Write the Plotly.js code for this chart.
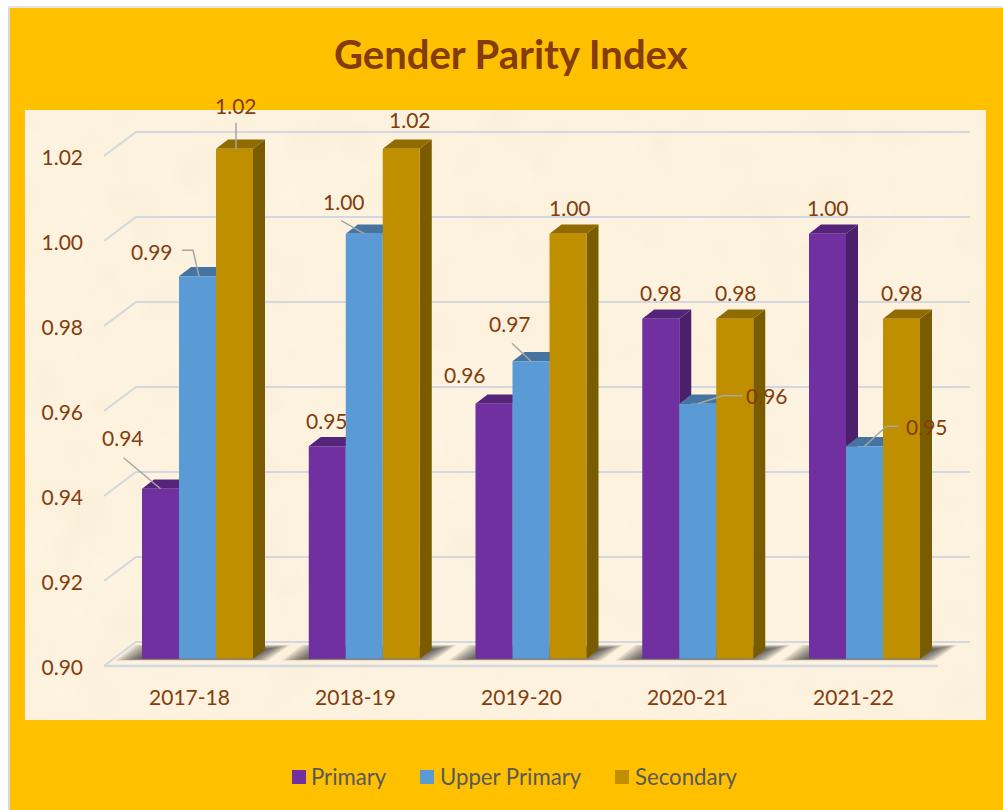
<!DOCTYPE html>
<html><head><meta charset="utf-8">
<script src="https://cdn.plot.ly/plotly-3.0.1.min.js"></script>
<style>
html,body{margin:0;padding:0;background:#fff;width:1003px;height:810px;overflow:hidden}
#edge{position:absolute;left:8px;top:6px;width:2px;height:804px;background:#d9d9d9}
#edgeTop{position:absolute;left:8px;top:6px;width:995px;height:2px;background:#e4e4e4}
#chart{position:absolute;left:10px;top:8px;width:993px;height:802px}
</style></head><body>
<div id="edge"></div><div id="edgeTop"></div><div id="chart"></div>
<script>
// ---------- data ----------
const categories = ['2017-18','2018-19','2019-20','2020-21','2021-22'];
const primary      = [0.94,0.95,0.96,0.98,1.00];
const upperPrimary = [0.99,1.00,0.97,0.96,0.95];
const secondary    = [1.02,1.02,1.00,0.98,0.98];
const yTicks = [0.90,0.92,0.94,0.96,0.98,1.00,1.02];
const seriesNames = ['Primary','Upper Primary','Secondary'];

// ---------- style / geometry constants ----------
const TXT='#843C0C', LEG='#595959', FONT='Lato, Carlito, Calibri, sans-serif';
const frontCols=['#7030A0','#5B9BD5','#BF8F00'];
const topCols=['#54247A','#44749F','#8F6B00'];
const sideCols=['#4A206B','#3E6B93','#7A5C00'];
const PX_X=166.75, PX_Y=4250, LABEL_STEP=166;  // pixels per category / per unit
const FLOOR=666;                          // page y of 0.90 on the front plane
const PLOT={l:104,r:986,t:110,b:676};     // plot rectangle on the page
const X0=189.5;                           // page x of first tick label
const GROUP_SHIFT=8, BAR_W=37, DEPTH_X=12, DEPTH_Y=9.3, PLANE_SHIFT=7.3, BACK_Y=24, TICK_SHIFT=1.5;
const pxX=p=>(p-X0)/PX_X, pxY=p=>0.90+(FLOOR-p)/PX_Y;
const xRange=[pxX(PLOT.l),pxX(PLOT.r)], yRange=[pxY(PLOT.b),pxY(PLOT.t)];
const tY=TICK_SHIFT/PX_Y;

// label offsets from the top-centre of each bar (px), by series then category
const labelOff=[
 [[-37.5,-51],[0,-26],[-29.5,-29],[0,-26],[0.5,-26]],
 [[-45.5,-25],[-20,-32],[-21.5,-38],[69,-8],[62.5,-20]],
 [[1.5,-43],[9,-29],[1.5,-26],[1,-26],[0.5,-26]]];
// leader polylines, offsets (px) from the bar top-centre; null = no leader
const leaderOff=[
 [[[0,0],[-37,-31]],null,null,null,null],
 [[[1.5,0],[-4.5,-26],[-15.5,-26]],[[0,0],[-23,-13]],[[0,0],[-19,-18]],[[0,0],[25,-8],[45,-8]],[[0,0],[22,-20],[34,-20]]],
 [[[1.5,0],[1.5,-26]],null,null,null,null]];

const series=[primary,upperPrimary,secondary];
const barCx=(k,i)=>i+(GROUP_SHIFT+(k-1)*BAR_W)/PX_X;
const traces=[];
const bare={hoverinfo:'skip',showlegend:false,mode:'lines'};

// grid lines: floor-level front line plus a return and back wall line per tick
const gridX=[pxX(104),pxX(136),pxX(970)];
yTicks.forEach(t=>{
  const yb=t+BACK_Y/PX_Y;
  traces.push(Object.assign({},bare,{x:gridX,y:[t,yb,yb],line:{color:'#D3D7DF',width:2},xaxis:'x',yaxis:'y'}));
});
traces.push(Object.assign({},bare,{x:[pxX(104),pxX(938)],y:[0.90,0.90],line:{color:'#D3D7DF',width:2.5},xaxis:'x',yaxis:'y'}));
// soft floor shadows (nested translucent polygons)
categories.forEach((c,i)=>{
  const cx=barCx(1,i);
  for(let n=0;n<9;n++){
    const fl=(-82+n*3)/PX_X, bl=(-62+n*3)/PX_X, br=(92-n*2.6)/PX_X, fr=(70-n*2.6)/PX_X;
    const yf=pxY(660.5-n*0.2), yb=pxY(645+n*0.5);
    traces.push(Object.assign({},bare,{x:[cx+fl,cx+bl,cx+br,cx+fr,cx+fl],y:[yf,yb,yb,yf,yf],fill:'toself',
      fillcolor:'rgba(45,45,45,0.13)',line:{width:0},xaxis:'x',yaxis:'y'}));
  }
});
// side and top faces of the bars, derived from the values
const dX=DEPTH_X/PX_X, dY=DEPTH_Y/PX_Y, sh=PLANE_SHIFT/PX_Y, hw=BAR_W/2/PX_X;
categories.forEach((c,i)=>{
  series.forEach((vals,k)=>{
    const v=vals[i]+sh, b=0.90+sh, l=barCx(k,i)-hw, r=barCx(k,i)+hw;
    traces.push(Object.assign({},bare,{x:[r,r+dX,r+dX,r,r],y:[v,v+dY,b+dY,b,v],fill:'toself',fillcolor:sideCols[k],line:{width:0},xaxis:'x',yaxis:'y'}));
    traces.push(Object.assign({},bare,{x:[l,l+dX,r+dX,r,l],y:[v,v+dY,v+dY,v,v],fill:'toself',fillcolor:topCols[k],line:{width:0},xaxis:'x',yaxis:'y'}));
  });
});
// bar fronts
series.forEach((vals,k)=>{
  traces.push({type:'bar',name:seriesNames[k],x:categories,y:vals.map(v=>v-0.90),base:0.90,
    customdata:vals,hovertemplate:'%{x}: %{customdata:.2f}<extra>'+seriesNames[k]+'</extra>',
    marker:{color:frontCols[k],line:{width:0}},xaxis:'x2',yaxis:'y2',showlegend:false});
});
// leader lines and data labels
const annotations=[];
series.forEach((vals,k)=>{
  vals.forEach((v,i)=>{
    const lo=leaderOff[k][i];
    if(lo){
      traces.push(Object.assign({},bare,{x:lo.map(p=>barCx(k,i)+p[0]/PX_X),y:lo.map(p=>v+sh-p[1]/PX_Y+tY),
        line:{color:'#A6A6A6',width:1.5},xaxis:'x3',yaxis:'y3'}));
    }
    const off=labelOff[k][i];
    annotations.push({xref:'x',yref:'y',x:barCx(k,i),y:v+sh,xshift:off[0],yshift:-off[1],showarrow:false,
      text:v.toFixed(2),font:{family:FONT,size:21,color:TXT},xanchor:'center',yanchor:'middle'});
  });
});
// legend
const W=PLOT.r-PLOT.l,H=PLOT.b-PLOT.t;
const paperX=p=>(p-PLOT.l)/W, paperY=p=>(PLOT.b-p)/H;
const legendKeyX=[292,420,615], legendTextX=[309,438,633];
const shapes=[];
seriesNames.forEach((n,k)=>{
  shapes.push({type:'rect',xref:'paper',yref:'paper',x0:paperX(legendKeyX[k]),x1:paperX(legendKeyX[k]+14),
    y0:paperY(784),y1:paperY(770),fillcolor:frontCols[k],line:{width:0}});
  annotations.push({xref:'paper',yref:'paper',x:paperX(legendTextX[k]),y:paperY(776),showarrow:false,text:n,
    xanchor:'left',yanchor:'middle',font:{family:FONT,size:22.2,color:LEG}});
});
annotations.push({xref:'paper',yref:'paper',x:paperX(511),y:paperY(54),showarrow:false,text:'<b>Gender Parity Index</b>',
  xanchor:'center',yanchor:'middle',font:{family:FONT,size:40,color:TXT}});

// parchment texture for the chart panel
const cv=document.createElement('canvas');cv.width=961;cv.height=610;
const g=cv.getContext('2d');g.fillStyle='#FDF2DE';g.fillRect(0,0,961,610);
let seed=12345;const rnd=()=>(seed=(seed*16807)%2147483647)/2147483647;
for(let n=0;n<900;n++){
  const x=rnd()*961,y=rnd()*610,r=6+rnd()*28,light=rnd()>0.5;
  const gr=g.createRadialGradient(x,y,0,x,y,r);
  const col=light?'255,248,234':'247,235,210';
  gr.addColorStop(0,'rgba('+col+',0.18)');gr.addColorStop(1,'rgba('+col+',0)');
  g.fillStyle=gr;g.fillRect(x-r,y-r,2*r,2*r);
}
const panel=cv.toDataURL('image/png');

const layout={
  width:993,height:802,paper_bgcolor:'#FFC000',plot_bgcolor:'rgba(0,0,0,0)',
  margin:{l:PLOT.l-10,r:1003-PLOT.r,t:PLOT.t-8,b:810-PLOT.b,pad:0,autoexpand:false},
  showlegend:false,barmode:'group',bargap:1-3*BAR_W/PX_X,bargroupgap:0,hovermode:'closest',
  xaxis:{type:'linear',range:xRange,tickmode:'array',tickvals:categories.map((c,i)=>i*LABEL_STEP/PX_X),ticktext:categories,
    showgrid:false,zeroline:false,showline:false,ticks:'',ticklabelstandoff:7,tickfont:{family:FONT,size:21,color:TXT}},
  yaxis:{type:'linear',range:yRange,showticklabels:false,showgrid:false,zeroline:false,showline:false,ticks:''},
  xaxis2:{type:'category',overlaying:'x',visible:false,categoryorder:'array',categoryarray:categories,
    range:[(PLOT.l-X0-GROUP_SHIFT)/PX_X,(PLOT.r-X0-GROUP_SHIFT)/PX_X]},
  yaxis2:{overlaying:'y',visible:false,range:[yRange[0]-sh,yRange[1]-sh]},
  xaxis3:{overlaying:'x',visible:false,range:xRange},
  yaxis3:{overlaying:'y',range:[yRange[0]+tY,yRange[1]+tY],tickmode:'array',tickvals:yTicks,tickformat:'.2f',
    showgrid:false,zeroline:false,showline:false,ticks:'',ticklabelstandoff:20,tickfont:{family:FONT,size:21,color:TXT}},
  images:[{source:panel,xref:'paper',yref:'paper',x:paperX(25),y:paperY(110),sizex:961/W,sizey:610/H,
    sizing:'stretch',xanchor:'left',yanchor:'top',layer:'below'}],
  shapes,annotations
};
Plotly.newPlot('chart',traces,layout,{displayModeBar:false,responsive:false});
</script></body></html>
